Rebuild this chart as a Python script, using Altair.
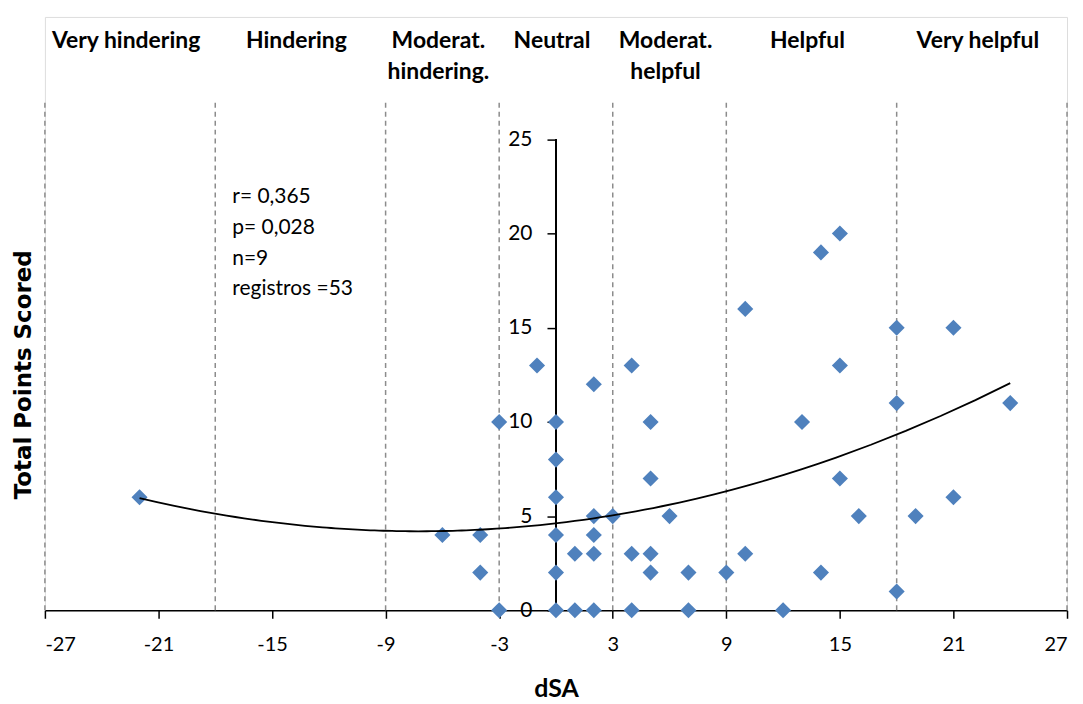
import altair as alt
import pandas as pd

# ---- data ----
dsa = [-22, -6, -4, -4, -3, -3, -1, 0, 0, 0, 0, 0, 0, 1, 1, 2, 2, 2, 2, 2, 3,
       4, 4, 4, 5, 5, 5, 5, 6, 7, 7, 9, 10, 10, 12, 13, 14, 14, 15, 15, 15,
       16, 18, 18, 18, 19, 21, 21, 24]
points = [6, 4, 4, 2, 10, 0, 13, 10, 8, 6, 4, 2, 0, 3, 0, 12, 5, 4, 3, 0, 5,
          13, 3, 0, 10, 7, 3, 2, 5, 2, 0, 2, 16, 3, 0, 10, 19, 2, 20, 13, 7,
          5, 15, 11, 1, 5, 15, 6, 11]

boundaries = [-27, -18, -9, -3, 3, 9, 18, 27]
categories = ["Very hindering", "Hindering", "Moderat.\nhindering.", "Neutral",
              "Moderat.\nhelpful", "Helpful", "Very helpful"]
x_ticks = [-27, -21, -15, -9, -3, 3, 9, 15, 21, 27]
y_ticks = [0, 5, 10, 15, 20, 25]
stats_text = "r= 0,365\np= 0,028\nn=9\nregistros =53"

W, H = 1025, 595
X_DOM = [-27, 27]
Y_DOM = [0, 31.5]
FONT = "Lato"

df = pd.DataFrame({"dsa": dsa, "points": points})
bounds_df = pd.DataFrame({"b": boundaries})
cat_df = pd.DataFrame({
    "label": categories,
    "cx": [(boundaries[i] + boundaries[i + 1]) / 2 for i in range(len(categories))],
})

xscale = alt.Scale(domain=X_DOM, nice=False, zero=False)
yscale = alt.Scale(domain=Y_DOM, nice=False, zero=False)

x_enc = alt.X("dsa:Q", scale=xscale, title="dSA",
              axis=alt.Axis(values=x_ticks, grid=False, tickSize=8, tickColor="black",
                            domainColor="black", domainWidth=1.5, tickWidth=1.5,
                            labelExpr="'' + datum.value",
                            labelFontSize=20, labelFont=FONT, labelColor="black",
                            labelPadding=16, titleFontSize=25, titleFont=FONT,
                            titleFontWeight="bold", titleColor="black", titlePadding=22))
y_enc = alt.Y("points:Q", scale=yscale, title=None,
              axis=alt.Axis(values=y_ticks, grid=False, domain=False, tickSize=9,
                            tickColor="black", tickWidth=1.5, offset=-(W / 2),
                            labelFontSize=21, labelFont=FONT, labelColor="black",
                            labelPadding=15))

dashed = alt.Chart(bounds_df).mark_rule(color="#8c8c8c", strokeWidth=1.5,
                                        strokeDash=[5, 4]).encode(
    x=alt.X("b:Q", scale=xscale),
    y=alt.datum(0),
    y2=alt.datum(27),
)

yaxis_line = alt.Chart(df).mark_rule(color="black", strokeWidth=1.5).encode(
    x=alt.datum(0), y=alt.datum(0), y2=alt.datum(25)
)

pts = alt.Chart(df).mark_point(shape="diamond", filled=True, size=260,
                               color="#4F81BD", opacity=1).encode(x=x_enc, y=y_enc)

trend = alt.Chart(df).transform_regression(
    "dsa", "points", method="poly", order=2, extent=[-22, 24]
).mark_line(color="black", strokeWidth=1.8).encode(
    x=alt.X("dsa:Q", scale=xscale), y=alt.Y("points:Q", scale=yscale)
)

cats = alt.Chart(cat_df).mark_text(font=FONT, fontWeight="bold",
                                   fontSize=23, lineBreak="\n", lineHeight=31,
                                   baseline="middle", align="center", dx=-4,
                                   color="black").encode(
    x=alt.X("cx:Q", scale=xscale), y=alt.datum(30.2), text="label:N"
)

stats = alt.Chart(pd.DataFrame({"t": [stats_text]})).mark_text(
    font=FONT, fontSize=21, lineBreak="\n", lineHeight=30.7,
    baseline="alphabetic", align="left", color="black"
).encode(x=alt.datum(-17.1), y=alt.datum(21.6), text="t:N")

ytitle = alt.Chart(pd.DataFrame({"t": ["Total Points Scored"]})).mark_text(
    font="DejaVu Sans", fontWeight="bold", fontSize=23, angle=270,
    baseline="middle", align="center", color="black"
).encode(x=alt.value(-21), y=alt.datum(12.5), text="t:N")

chart = alt.layer(dashed, yaxis_line, pts, trend, cats, stats, ytitle).properties(
    width=W, height=H,
    autosize=alt.AutoSizeParams(type="none"),
    padding={"left": 37, "top": 8, "right": 8, "bottom": 92},
).configure_view(stroke=None).configure(background="white")

chart.save("out.html", embed_options={"renderer": "svg", "actions": False})
